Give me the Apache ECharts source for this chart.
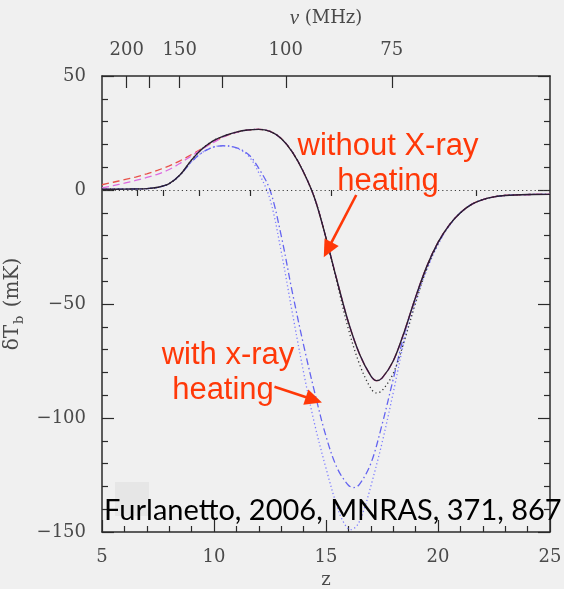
<!DOCTYPE html>
<html>
<head>
<meta charset="utf-8">
<script src="https://cdn.jsdelivr.net/npm/echarts@6/dist/echarts.min.js"></script>
<style>
  html, body { margin: 0; padding: 0; background: #f0f0f0; }
  #chart { width: 564px; height: 589px; }
</style>
</head>
<body>
<div id="chart"></div>
<script>
// 21-cm brightness temperature history, δT_b (mK) versus redshift z

// model without X-ray heating (solid)
const zNoHeat = [5, 6, 7, 7.5, 8, 8.5, 9, 9.5, 10, 10.5, 11, 11.5, 12, 12.5, 13, 13.5, 14, 14.5, 15, 15.5, 16, 16.5, 17, 17.25, 17.5, 18, 18.5, 19, 19.5, 20, 20.5, 21, 21.5, 22, 22.5, 23, 24, 25];
const tNoHeat = [0.3, 0.4, 0.6, 1.2, 2.8, 6.8, 13.2, 18.3, 21.8, 23.9, 25.4, 26.3, 26.6, 25.7, 22.6, 16.6, 7.8, -3.8, -21, -40, -58, -72, -81.5, -83.6, -82.5, -75, -62, -47, -33.5, -23, -15.4, -10, -6.3, -4.2, -3, -2.4, -2, -1.9];

// model without X-ray heating, variant (dotted)
const tNoHeatAlt = [0.3, 0.4, 0.6, 1.2, 2.8, 6.8, 13.2, 18.3, 21.8, 23.9, 25.4, 26.3, 26.6, 25.7, 22.6, 16.6, 7.8, -3.8, -21, -41, -61, -76.5, -87, -89, -88, -80.5, -66, -49.5, -34.5, -23.5, -15.4, -10, -6.3, -4.2, -3, -2.4, -2, -1.9];

// early-emission variants (dashed)
const zEarly = [5, 5.5, 6, 6.5, 7, 7.5, 8, 8.5, 9, 9.5, 10, 10.5, 11, 11.5, 12, 12.5, 13, 13.5, 14, 14.5, 15, 15.5, 16, 16.5, 17, 17.25, 17.5, 18, 18.5, 19, 19.5, 20, 20.5, 21, 21.5, 22, 22.5, 23, 24, 25];
const tEarlyRed = [2.3, 3.4, 4.5, 5.7, 7.1, 8.7, 10.6, 12.9, 15.6, 18.4, 21.2, 23.6, 25.3, 26.3, 26.6, 25.7, 22.6, 16.6, 7.8, -3.8, -21, -40, -58, -72, -81.5, -83.6, -82.5, -75, -62, -47, -33.5, -23, -15.4, -10, -6.3, -4.2, -3, -2.4, -2, -1.9];
const tEarlyMagenta = [0.9, 1.9, 3.0, 4.2, 5.5, 7.0, 9.0, 11.8, 15.0, 18.1, 21.0, 23.6, 25.3, 26.3, 26.6, 25.7, 22.6, 16.6, 7.8, -3.8, -21, -40, -58, -72, -81.5, -83.6, -82.5, -75, -62, -47, -33.5, -23, -15.4, -10, -6.3, -4.2, -3, -2.4, -2, -1.9];

// models with X-ray heating (blue)
const zHeat = [5, 6, 7, 7.5, 8, 8.5, 9, 9.5, 10, 10.4, 10.8, 11.2, 11.6, 12, 12.5, 13, 13.5, 14, 14.5, 15, 15.5, 16, 16.25, 16.5, 17, 17.5, 18, 18.5, 19, 19.5, 20, 20.5, 21, 21.5, 22, 22.5, 23, 24, 25];
const tHeatDashDot = [0.3, 0.4, 0.6, 1.2, 2.8, 6.8, 12.4, 16.6, 18.9, 19.4, 19.1, 17.8, 15.0, 9.5, 0, -20, -45, -68, -89, -108, -122, -129.5, -130.5, -129, -120, -103, -83, -63, -47, -34, -23.5, -15.6, -10, -6.3, -4.2, -3, -2.4, -2, -1.9];
const zHeatDot = [5, 6, 7, 7.5, 8, 8.5, 9, 9.5, 10, 10.4, 10.8, 11.2, 11.6, 12, 12.5, 13, 13.5, 14, 14.5, 15, 15.5, 15.8, 16.1, 16.4, 16.7, 17, 17.5, 18, 18.5, 19, 19.5, 20, 20.5, 21, 21.5, 22, 22.5, 23, 24, 25];
const tHeatDot = [0.3, 0.4, 0.6, 1.2, 2.8, 6.8, 12.4, 16.6, 18.9, 19.4, 19.0, 17.5, 14.3, 7.5, -4, -27, -54, -80, -103, -122, -139, -146, -149, -147, -140, -130, -111, -89, -66, -49, -35, -24, -15.8, -10, -6.3, -4.2, -3, -2.4, -2, -1.9];

// axis ticks
const zTicks = [5, 10, 15, 20, 25];
const tTicks = [-150, -100, -50, 0, 50];
const nuMajor = [200, 175, 150, 125, 100, 75];
const nuLabeled = [200, 150, 100, 75];
const nuMinor = [187.5, 162.5, 137.5, 112.5, 87.5, 62.5];
const NU21 = 1420.4; // rest frequency of the 21-cm line, MHz

const zOfNu = nu => NU21 / nu - 1;
const pairs = (xs, ys) => xs.map((x, i) => [x, ys[i]]);

const axisFont = 'DejaVu Serif';
const axisColor = '#4a4a4a';
const frameColor = '#2a2a2a';
const labelSize = 18;

const chart = echarts.init(document.getElementById('chart'), null, { renderer: 'canvas' });

function line(name, xs, ys, color, type, width, extra) {
  return Object.assign({
    name, type: 'line', data: pairs(xs, ys), smooth: 0.35, symbol: 'none',
    xAxisIndex: 0, yAxisIndex: 0,
    lineStyle: { color, type, width }, silent: true, z: 3
  }, extra || {});
}

chart.setOption({
  animation: false,
  backgroundColor: '#f0f0f0',
  grid: { left: 102, right: 14, top: 76, bottom: 57, outerBoundsMode: 'none', containLabel: false },
  xAxis: [
    {
      type: 'value', position: 'bottom', min: zTicks[0], max: zTicks[zTicks.length - 1], interval: 5,
      name: 'z', nameLocation: 'middle', nameGap: 32,
      nameTextStyle: { fontFamily: axisFont, fontSize: labelSize, color: axisColor },
      axisLine: { show: true, onZero: false, lineStyle: { color: frameColor, width: 1.5 } },
      axisTick: { show: true, inside: true, length: 12, lineStyle: { color: frameColor, width: 1.2 } },
      minorTick: { show: true, splitNumber: 5, length: 6, lineStyle: { color: frameColor, width: 1.2 } },
      axisLabel: { margin: 16, fontFamily: axisFont, fontSize: labelSize, color: axisColor },
      splitLine: { show: false }
    },
    {
      type: 'value', position: 'top', min: 5, max: 25,
      name: '{nu|ν} (MHz)', nameLocation: 'middle', nameGap: 47,
      nameTextStyle: { fontFamily: axisFont, fontSize: labelSize, color: axisColor,
        rich: { nu: { fontFamily: 'Liberation Serif', fontStyle: 'italic', fontSize: 21, color: axisColor } } },
      axisLine: { show: true, onZero: false, lineStyle: { color: frameColor, width: 1.5 } },
      axisTick: { show: true, inside: true, length: 12, customValues: nuMajor.map(zOfNu),
        lineStyle: { color: frameColor, width: 1.2 } },
      axisLabel: { show: true, margin: 17, customValues: nuLabeled.map(zOfNu),
        formatter: v => String(Math.round(NU21 / (1 + v))),
        fontFamily: axisFont, fontSize: labelSize, color: axisColor },
      splitLine: { show: false }
    },
    {
      type: 'value', position: 'top', min: 5, max: 25,
      axisLine: { show: false },
      axisTick: { show: true, inside: true, length: 6, customValues: nuMinor.map(zOfNu),
        lineStyle: { color: frameColor, width: 1.2 } },
      axisLabel: { show: false },
      splitLine: { show: false }
    }
  ],
  yAxis: [
    {
      type: 'value', position: 'left', min: tTicks[0], max: tTicks[tTicks.length - 1], interval: 50,
      name: '{a|δT}{b|b}{a| (mK)}', nameLocation: 'middle', nameGap: 68, nameRotate: 90,
      nameTextStyle: { color: axisColor,
        rich: {
          a: { fontFamily: axisFont, fontSize: 20, color: axisColor, lineHeight: 26 },
          b: { fontFamily: axisFont, fontSize: 13, color: axisColor, lineHeight: 26, verticalAlign: 'bottom', padding: [0, 2, 0, 1] }
        } },
      axisLine: { show: true, onZero: false, lineStyle: { color: frameColor, width: 1.5 } },
      axisTick: { show: true, inside: true, length: 12, lineStyle: { color: frameColor, width: 1.2 } },
      minorTick: { show: true, splitNumber: 5, length: 6, lineStyle: { color: frameColor, width: 1.2 } },
      axisLabel: { margin: 16, fontFamily: axisFont, fontSize: labelSize, color: axisColor,
        formatter: v => (v < 0 ? '\u2212' + Math.abs(v) : String(v)) },
      splitLine: { show: false }
    },
    {
      type: 'value', position: 'right', min: -150, max: 50, interval: 50,
      axisLine: { show: true, onZero: false, lineStyle: { color: frameColor, width: 1.5 } },
      axisTick: { show: true, inside: true, length: 12, lineStyle: { color: frameColor, width: 1.2 } },
      minorTick: { show: true, splitNumber: 5, length: 6, lineStyle: { color: frameColor, width: 1.2 } },
      axisLabel: { show: false },
      splitLine: { show: false }
    }
  ],
  series: [
    line('heated, dotted', zHeatDot, tHeatDot, '#7b7bff', [1.2, 2.6], 1.3),
    line('heated, dash-dot', zHeat, tHeatDashDot, '#6464f0', [7, 3, 1.5, 3], 1.3),
    line('early red', zEarly, tEarlyRed, '#e8524a', [7, 4], 1.3),
    line('early magenta', zEarly, tEarlyMagenta, '#dd6ae0', [7, 4], 1.3),
    line('no heating, dotted', zNoHeat, tNoHeatAlt, '#303030', [1.2, 2.8], 1.3),
    line('no heating', zNoHeat, tNoHeat, '#2a1f33', 'solid', 1.4, {
      markLine: {
        silent: true, symbol: 'none', label: { show: false },
        lineStyle: { color: '#404040', type: [1.2, 3], width: 1.1 },
        data: [{ yAxis: 0 }]
      }
    })
  ]
});

// annotations: labels with arrows pointing at the two model families
const red = '#ff3808';
const arrowNoHeat = { from: [16.35, -2.2], to: [14.9, -29.5] };
const arrowHeat = { from: [12.7, -86.3], to: [14.82, -93.2] };

function arrow(a) {
  const p0 = chart.convertToPixel({ xAxisIndex: 0, yAxisIndex: 0 }, a.from);
  const p1 = chart.convertToPixel({ xAxisIndex: 0, yAxisIndex: 0 }, a.to);
  const dx = p1[0] - p0[0], dy = p1[1] - p0[1];
  const len = Math.hypot(dx, dy), ux = dx / len, uy = dy / len;
  const headLen = 17, headHalf = 8;
  const bx = p1[0] - ux * headLen, by = p1[1] - uy * headLen;
  return [
    { type: 'line', silent: true, z: 20,
      shape: { x1: p0[0], y1: p0[1], x2: bx + ux * 2, y2: by + uy * 2 },
      style: { stroke: red, lineWidth: 2.6 } },
    { type: 'polygon', silent: true, z: 20,
      shape: { points: [p1, [bx - uy * headHalf, by + ux * headHalf], [bx + uy * headHalf, by - ux * headHalf]] },
      style: { fill: red } }
  ];
}

const redText = (text, x, y) => ({
  type: 'text', silent: true, z: 20, x, y,
  style: { text, fill: red, font: '31px "Liberation Sans", Arial, sans-serif', align: 'center', verticalAlign: 'middle' }
});

chart.setOption({
  graphic: [
    { type: 'rect', silent: true, z: 1, shape: { x: 115, y: 482, width: 34, height: 34 }, style: { fill: '#e6e6e6' } },
    redText('without X-ray', 388, 146),
    redText('heating', 388, 181),
    redText('with x-ray', 228, 355),
    redText('heating', 223, 390),
    ...arrow(arrowNoHeat),
    ...arrow(arrowHeat),
    { type: 'text', silent: true, z: 25, x: 104, y: 511,
      style: { text: 'Furlanetto, 2006, MNRAS, 371, 867', fill: '#000000',
        font: '29px Lato, "Noto Sans", sans-serif', align: 'left', verticalAlign: 'middle' } }
  ]
});
</script>
</body>
</html>
